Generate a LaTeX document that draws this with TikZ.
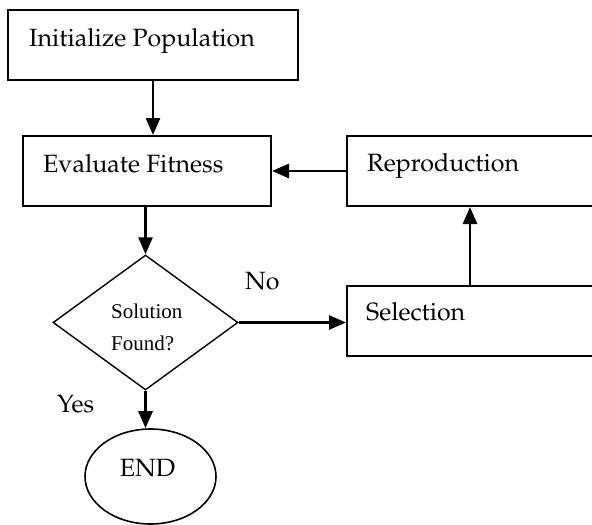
\documentclass[tikz,border=0pt]{standalone}
\usepackage[T1,TU]{fontenc}
\usepackage{fontspec}
\newfontfamily\timesf{Liberation Serif}
\usetikzlibrary{arrows.meta,shapes.geometric}
\newcommand\palf{\fontencoding{T1}\fontfamily{ppl}\selectfont}
\begin{document}
\begin{tikzpicture}[x=1pt,y=-1pt,
  box/.style={draw, line width=2pt, inner sep=0pt, anchor=north west, minimum height=70pt},
  arr/.style={line width=2.8pt, -{Triangle[length=17pt,width=14pt]}},
  pal/.style={font=\palf\fontsize{25}{30}\selectfont, inner sep=0pt, anchor=base west},
  tim/.style={font=\timesf\fontsize{21}{30}\selectfont, inner sep=0pt, anchor=base west}]
\useasboundingbox (0,0) rectangle (592,525);
\clip (0,0) rectangle (592,525);
% boxes
\node[box, minimum width=290pt] (init) at (7,9) {};
\node[box, minimum width=248pt] (eval) at (22,135) {};
\node[box, minimum width=260pt] (rep) at (346,135) {};
\node[box, minimum width=260pt] (sel) at (346,285) {};
\node[draw, diamond, line width=1.4pt, minimum width=185pt, minimum height=135pt, inner sep=0pt] (dia) at (145.5,322.5) {};
\node[draw, ellipse, line width=1.6pt, minimum width=131pt, minimum height=95pt, inner sep=0pt] (end) at (150.5,476.5) {};
% texts
\node[pal] (tinit) at (29,46) {Initialize Population};
\node[pal] (teval) at (43,172) {Evaluate Fitness};
\node[pal] (trep) at (367,171) {Reproduction};
\node[pal] (tsel) at (366,320) {Selection};
\node[pal, anchor=base] (tend) at (147.5,476) {END};
\node[pal] (tyes) at (57,412) {Yes};
\node[pal] (tno) at (245,289) {No};
\node[tim] (tsol) at (111,318) {Solution};
\node[tim] (tfound) at (111,350) {Found?};
% connectors
\draw[arr] (init.south) -- (init.south |- eval.north);
\draw[arr] (dia.north |- eval.south) -- (dia.north);
\draw[arr] (dia.south) -- (dia.south |- end.north);
\draw[arr] (dia.east) -- (dia.east -| sel.west);
\draw[arr] ([xshift=124pt]sel.north west) -- ([xshift=124pt]rep.south west);
\draw[arr] (rep.west) -- (rep.west -| eval.east);
\end{tikzpicture}
\end{document}
